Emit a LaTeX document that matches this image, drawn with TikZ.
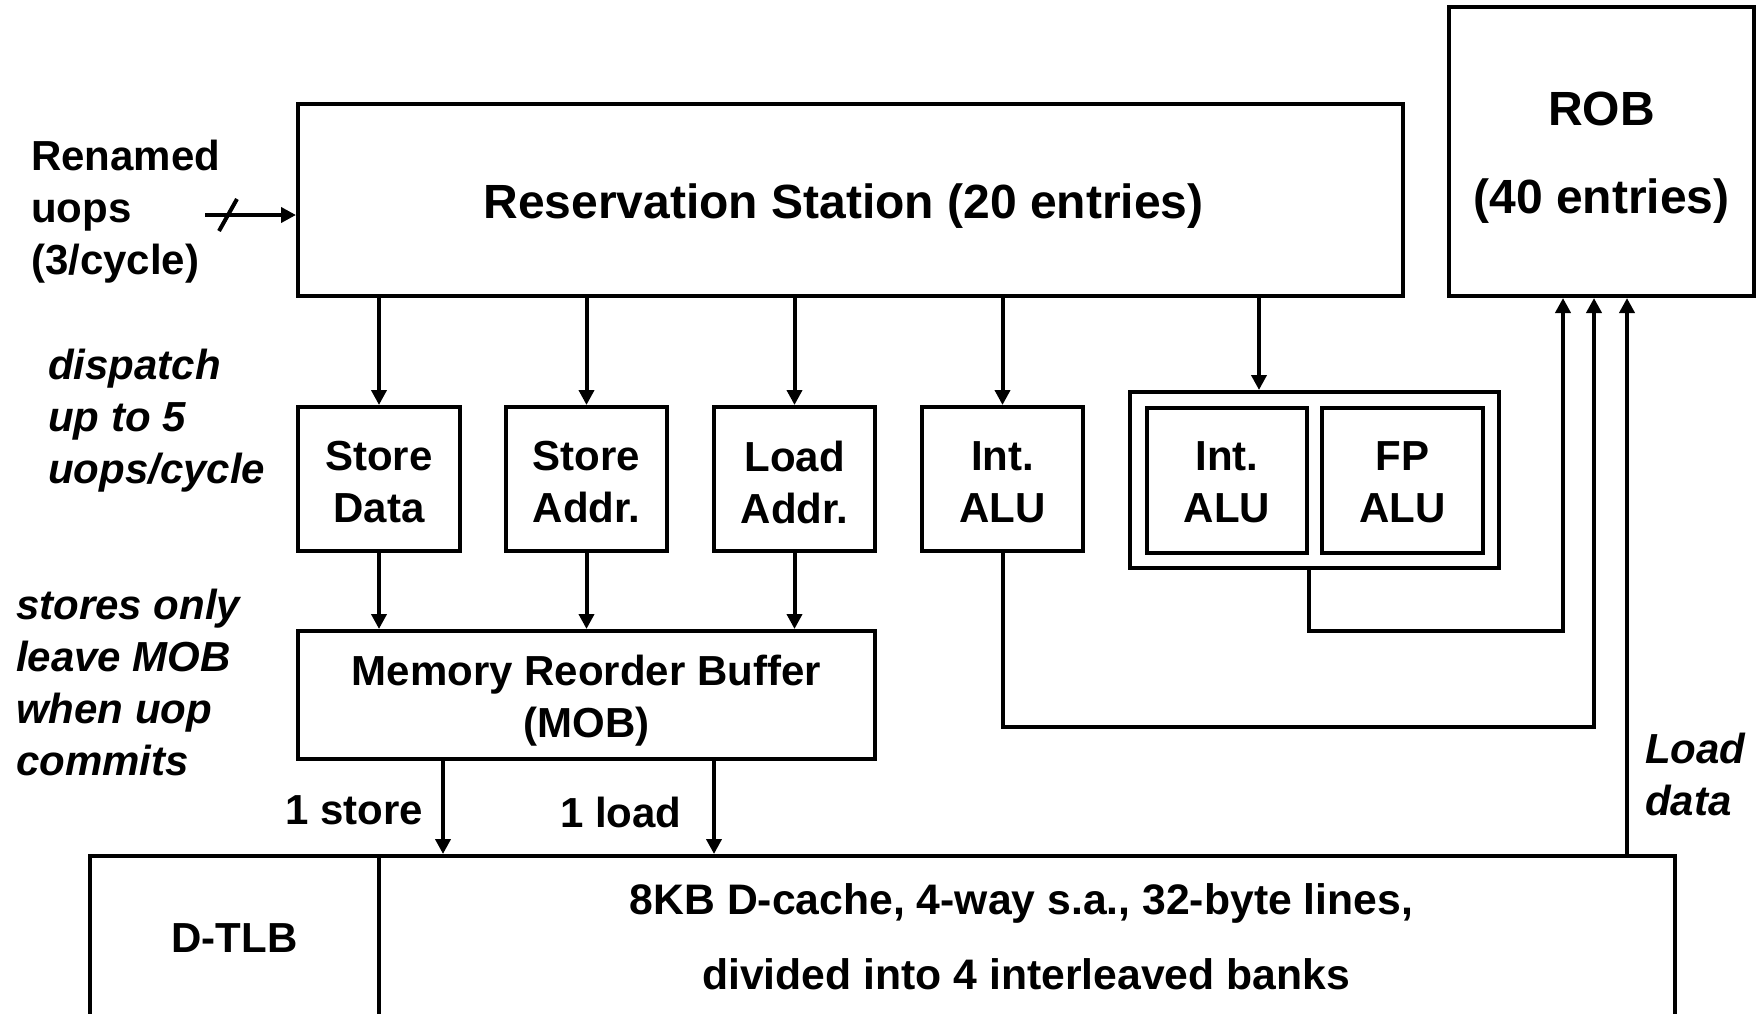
\documentclass[tikz,border=0pt]{standalone}
\usepackage{fontspec}
\setmainfont{Liberation Sans}
\usetikzlibrary{arrows.meta}
\begin{document}
\begin{tikzpicture}[x=1pt,y=-1pt,
  box/.style={draw, line width=4pt, inner sep=0pt},
  lbl/.style={inner sep=0pt, align=center, font=\bfseries\fontsize{42}{52}\selectfont},
  big/.style={inner sep=0pt, align=center, font=\bfseries\fontsize{48}{88}\selectfont},
  ilbl/.style={inner sep=0pt, align=left, anchor=base west, font=\bfseries\itshape\fontsize{42}{52}\selectfont},
  conn/.style={line width=4pt},
  arr/.style={conn, -{Triangle[length=15pt,width=15pt]}},
]
\useasboundingbox (0,0) rectangle (1764,1013);
\clip (0,0) rectangle (1764,1013);

% boxes
\node[box, minimum width=1105pt, minimum height=192pt] (rs) at (850.5,200) {};
\node[box, minimum width=305pt, minimum height=289pt] (rob) at (1601.5,151.5) {};
\node[box, minimum width=162pt, minimum height=144pt] (sd) at (379,479) {};
\node[box, minimum width=161pt, minimum height=144pt] (sa) at (586.5,479) {};
\node[box, minimum width=161pt, minimum height=144pt] (la) at (794.5,479) {};
\node[box, minimum width=161pt, minimum height=144pt] (ia) at (1002.5,479) {};
\node[box, minimum width=369pt, minimum height=176pt] (outer) at (1314.5,480) {};
\node[box, minimum width=160pt, minimum height=145pt] (ia2) at (1227,480.5) {};
\node[box, minimum width=161pt, minimum height=145pt] (fp) at (1402.5,480.5) {};
\node[box, minimum width=577pt, minimum height=128pt] (mob) at (586.5,695) {};
\node[box, minimum width=289pt, minimum height=264pt] (tlb) at (234.5,988) {};
\node[box, minimum width=1296pt, minimum height=264pt] (dcache) at (1027,988) {};

% box texts
\node[big] (rst) at ([shift={(-7,6)}]rs.center) {Reservation Station (20 entries)};
\node[big] (robt) at ([shift={(0,6)}]rob.center) {ROB\\(40 entries)};
\node[lbl] (sdt) at ([shift={(0,3)}]sd.center) {Store\\Data};
\node[lbl] (sat) at ([shift={(0,3)}]sa.center) {Store\\Addr.};
\node[lbl] (lat) at ([shift={(0,3)}]la.center) {Load\\Addr.};
\node[lbl] (iat) at ([shift={(0,3)}]ia.center) {Int.\\ALU};
\node[lbl] (ia2t) at ([shift={(0,2)}]ia2.center) {Int.\\ALU};
\node[lbl] (fpt) at ([shift={(0,2)}]fp.center) {FP\\ALU};
\node[lbl] (mobt) at ([shift={(0,6)}]mob.center) {Memory Reorder Buffer\\(MOB)};

% other texts
\node[lbl, anchor=base] (tlbt) at (234.5,952) {D-TLB};
\node[lbl, anchor=base, font=\bfseries\fontsize{42.7}{52}\selectfont] (dct1) at (1021.5,914) {8KB D-cache, 4-way s.a., 32-byte lines,};
\node[lbl, anchor=base, font=\bfseries\fontsize{42.7}{52}\selectfont] (dct2) at (1026,989) {divided into 4 interleaved banks};
\node[lbl, align=left, anchor=base west] (ren) at (31,274) {Renamed\\uops\\(3/cycle)};
\node[ilbl] (disp) at (48,483) {dispatch\\up to 5\\uops/cycle};
\node[ilbl] (stor) at (16,775) {stores only\\leave MOB\\when uop\\commits};
\node[ilbl] (ldt) at (1645,815) {Load\\data};
\node[lbl, anchor=base west] (ost) at (285,824) {1 store};
\node[lbl, anchor=base west] (old) at (560,827) {1 load};

% input arrow
\coordinate (in) at (205,215);
\draw[arr] (in) -- (rs.west |- in);
\draw[conn] ([shift={(14,16)}]in) -- ([shift={(32,-16)}]in);

% dispatch arrows
\foreach \n in {sd,sa,la,ia} {
  \draw[arr] (\n.north |- rs.south) -- (\n.north);
}
\draw[arr] ([xshift=-55.5pt]outer.north |- rs.south) -- ([xshift=-55.5pt]outer.north);

% to MOB
\foreach \n in {sd,sa,la} {
  \draw[arr] (\n.south) -- (\n.south |- mob.north);
}

% MOB to cache
\draw[arr] ([xshift=-143.5pt]mob.south) -- ([xshift=-143.5pt]mob.south |- dcache.north);
\draw[arr] ([xshift=127.5pt]mob.south) -- ([xshift=127.5pt]mob.south |- dcache.north);

% to ROB
\coordinate (r1) at (1563,631);
\coordinate (r2) at (1594,727);
\coordinate (r3) at (1627,856);
\draw[arr] (ia2.east |- outer.south) |- (r1) -- (r1 |- rob.south);
\draw[arr] (ia.south) |- (r2) -- (r2 |- rob.south);
\draw[arr] (r3) -- (r3 |- rob.south);
\end{tikzpicture}
\end{document}
